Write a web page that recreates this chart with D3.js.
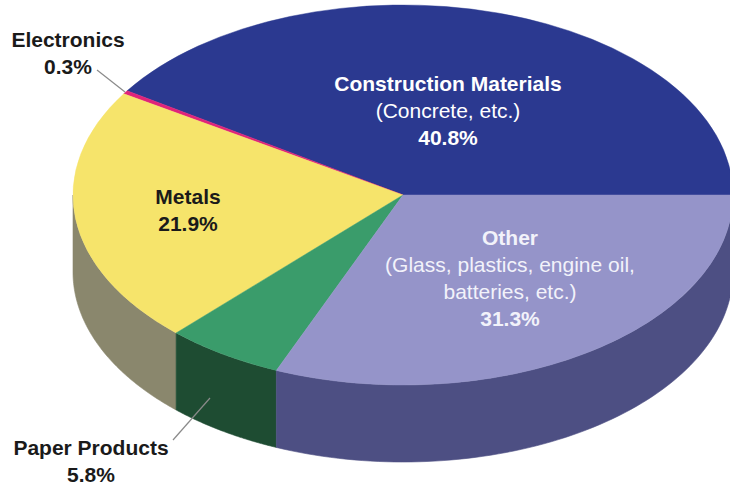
<!DOCTYPE html>
<html>
<head>
<meta charset="utf-8">
<script src="https://cdn.jsdelivr.net/npm/d3@7"></script>
<style>
  html, body { margin: 0; padding: 0; background: #ffffff; }
  svg { display: block; font-family: "Liberation Sans", Arial, sans-serif; }
</style>
</head>
<body>
<svg id="chart" width="730" height="490"></svg>
<script>
// Waste composition shares (percent), drawn counter-clockwise from 3 o'clock
const categories = ["Construction Materials", "Electronics", "Metals", "Paper Products", "Other"];
const shares = [40.8, 0.3, 21.9, 5.8, 31.3];
const topColors = ["#2b3990", "#e0237a", "#f6e46b", "#3a9c6b", "#9594c9"];
const sideColors = ["#1d2766", "#9c1855", "#8a876d", "#1e4c32", "#4d4f83"];

// Label text lines per slice: [text, bold]
const sliceLabels = [
  [["Construction Materials", true], ["(Concrete, etc.)", false], ["40.8%", true]],
  [["Electronics", true], ["0.3%", true]],
  [["Metals", true], ["21.9%", true]],
  [["Paper Products", true], ["5.8%", true]],
  [["Other", true], ["(Glass, plastics, engine oil,", false], ["batteries, etc.)", false], ["31.3%", true]]
];

const svg = d3.select("#chart");
const cx = 403, cy = 195, rx = 330, ry = 190, depth = 77;

const data = categories.map((c, i) => ({ name: c, value: shares[i], i }));
const pie = d3.pie().sort(null).value(d => d.value)
  .startAngle(Math.PI / 2).endAngle(Math.PI / 2 - 2 * Math.PI);
const arcs = pie(data);

// point on the top ellipse for a d3 angle
const px = t => cx + rx * Math.sin(t);
const py = t => cy - ry * Math.cos(t);

// ---- side walls (only the front half, where cos(angle) < 0) ----
const frontLo = -3 * Math.PI / 2, frontHi = -Math.PI / 2;
const sideG = svg.append("g");
arcs.forEach(a => {
  let lo = Math.min(a.startAngle, a.endAngle), hi = Math.max(a.startAngle, a.endAngle);
  lo = Math.max(lo, frontLo); hi = Math.min(hi, frontHi);
  if (hi <= lo) return;
  const n = 80;
  const ts = d3.range(n + 1).map(k => lo + (hi - lo) * k / n);
  const pts = ts.map(t => [px(t), py(t)])
    .concat(ts.slice().reverse().map(t => [px(t), py(t) + depth]));
  sideG.append("path")
    .attr("d", d3.line()(pts) + "Z")
    .attr("fill", sideColors[a.data.i])
    .attr("stroke", sideColors[a.data.i])
    .attr("stroke-width", 0.6);
});

// ---- top face: circular arcs squashed into an ellipse ----
const arcGen = d3.arc().innerRadius(0).outerRadius(rx);
svg.append("g")
  .attr("transform", `translate(${cx},${cy}) scale(1,${ry / rx})`)
  .selectAll("path")
  .data(arcs)
  .join("path")
  .attr("d", arcGen)
  .attr("fill", d => topColors[d.data.i])
  .attr("stroke", d => topColors[d.data.i])
  .attr("stroke-width", 0.6);

// ---- leader lines for the outside labels ----
const leaders = [
  { from: [125, 92], to: [97, 70] },
  { from: [210, 398], to: [173, 440] }
];
svg.append("g").selectAll("line").data(leaders).join("line")
  .attr("x1", d => d.from[0]).attr("y1", d => d.from[1])
  .attr("x2", d => d.to[0]).attr("y2", d => d.to[1])
  .attr("stroke", "#8a8a8a").attr("stroke-width", 1.2);

// ---- labels ----
const labelPos = [
  { x: 448, y: 84, color: "#ffffff" },
  { x: 68, y: 40, color: "#1a1a1a" },
  { x: 188, y: 197, color: "#1a1a1a" },
  { x: 91, y: 448, color: "#1a1a1a" },
  { x: 510, y: 238, color: "#f2f2fa" }
];
const lineGap = 27;
const labelG = svg.append("g");
sliceLabels.forEach((lines, i) => {
  const p = labelPos[i];
  const t = labelG.append("text")
    .attr("text-anchor", "middle")
    .attr("fill", p.color)
    .style("font-size", "21px");
  lines.forEach((ln, k) => {
    t.append("tspan")
      .attr("x", p.x)
      .attr("y", p.y + k * lineGap)
      .attr("dy", "0.35em")
      .attr("font-weight", ln[1] ? "bold" : "normal")
      .text(ln[0]);
  });
});
</script>
</body>
</html>
